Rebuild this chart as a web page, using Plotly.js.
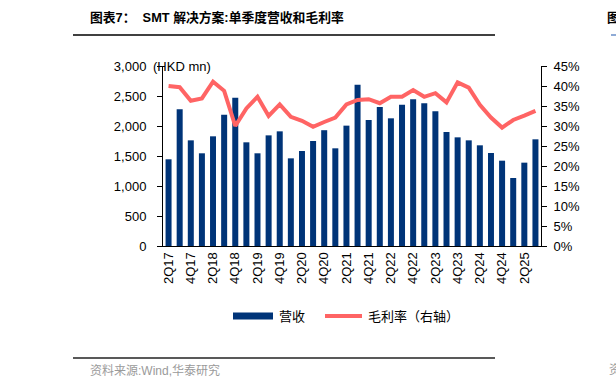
<!DOCTYPE html>
<html>
<head>
<meta charset="utf-8">
<script src="https://cdn.plot.ly/plotly-3.0.1.min.js"></script>
<style>
html,body{margin:0;padding:0;background:#fff;}
#chart{width:616px;height:388px;}
</style>
</head>
<body>
<div id="chart"></div>
<script>
const categories = ["2Q17","3Q17","4Q17","1Q18","2Q18","3Q18","4Q18","1Q19","2Q19","3Q19","4Q19","1Q20","2Q20","3Q20","4Q20","1Q21","2Q21","3Q21","4Q21","1Q22","2Q22","3Q22","4Q22","1Q23","2Q23","3Q23","4Q23","1Q24","2Q24","3Q24","4Q24","1Q25","2Q25","3Q25"];
const revenue = [1445,2278,1761,1545,1828,2189,2472,1728,1545,1844,1911,1461,1583,1750,1930,1628,2006,2689,2100,2317,2128,2356,2444,2378,2244,1900,1811,1761,1678,1550,1422,1133,1389,1778];
const grossMargin = [40.0,39.7,36.3,36.9,41.1,38.8,30.0,34.4,37.3,32.5,35.4,32.3,31.3,29.8,31.0,32.1,35.4,36.5,36.7,35.7,37.3,37.3,39.0,37.3,38.2,35.9,40.9,39.6,35.3,32.1,29.6,31.5,32.6,33.8];
const seriesNames = ["营收", "毛利率（右轴）"];
const titleText = "图表7：  SMT 解决方案:单季度营收和毛利率";
const sourceText = "资料来源:Wind,华泰研究";
const unitText = "(HKD mn)";

const W = 616, H = 388;
const M = {l:163, r:75, t:66, b:142};
const PW = W - M.l - M.r, PH = H - M.t - M.b;
const px = x => (x - M.l) / PW;
const py = y => (H - M.b - y) / PH;

const NAVY = "#003478";
const RED = "#FF6464";
const FONT = "Liberation Sans, Arial, sans-serif";
const CJK = "Liberation Sans, Noto Sans CJK SC, sans-serif";

const labelVals = categories.filter((c, i) => i % 2 === 0);
const boundaryTicks = categories.map((c, i) => i - 0.5).filter((v, i) => i % 2 === 0);
boundaryTicks.push(categories.length - 0.5);

const traces = [
  {type:"bar", x:categories, y:revenue, name:seriesNames[0], marker:{color:NAVY}, yaxis:"y", showlegend:false, hoverinfo:"x+y"},
  {type:"scatter", mode:"lines", x:categories, y:grossMargin, name:seriesNames[1], line:{color:RED, width:4}, yaxis:"y2", showlegend:false}
];

const layout = {
  width:W, height:H,
  margin:M,
  paper_bgcolor:"#fff", plot_bgcolor:"#fff",
  font:{family:FONT, size:13, color:"#000"},
  bargap:0.46,
  showlegend:false,
  xaxis:{type:"category", tickmode:"array", tickvals:labelVals, ticktext:labelVals, tickangle:-90,
         ticks:"", showline:true, linecolor:"#000", linewidth:1, showgrid:false, zeroline:false,
         range:[-0.5, categories.length-0.5], tickfont:{size:13}},
  xaxis2:{overlaying:"x", anchor:"y", side:"bottom", range:[-0.5, categories.length-0.5],
          tickmode:"array", tickvals:boundaryTicks, ticks:"outside", ticklen:5, tickcolor:"#000",
          showticklabels:false, showline:false, showgrid:false, zeroline:false},
  yaxis:{range:[0,3000], dtick:500, tickformat:",d", ticks:"outside", ticklen:5, tickcolor:"#000",
         showline:true, linecolor:"#000", linewidth:1, showgrid:false, zeroline:false,
         ticklabelstandoff:8, tickfont:{size:13}},
  yaxis2:{overlaying:"y", side:"right", range:[0,45], dtick:5, ticksuffix:"%", ticks:"outside", ticklen:5,
          tickcolor:"#000", showline:true, linecolor:"#000", linewidth:1, showgrid:false, zeroline:false,
          ticklabelstandoff:4, tickfont:{size:13}},
  shapes:[
    {type:"line", xref:"paper", yref:"paper", x0:px(73), x1:px(495), y0:py(35), y1:py(35), line:{color:"#000", width:1.5}},
    {type:"line", xref:"paper", yref:"paper", x0:px(73), x1:px(495), y0:py(358), y1:py(358), line:{color:"#222", width:1.5}},
    {type:"line", xref:"paper", yref:"paper", x0:px(611), x1:px(617), y0:py(35), y1:py(35), line:{color:"#6a8fc8", width:1.5}},
    {type:"rect", xref:"paper", yref:"paper", x0:px(233), x1:px(273), y0:py(319.5), y1:py(312.5), fillcolor:NAVY, line:{width:0}},
    {type:"line", xref:"paper", yref:"paper", x0:px(325), x1:px(362), y0:py(316), y1:py(316), line:{color:RED, width:4}}
  ],
  annotations:[
    {xref:"paper", yref:"paper", x:px(88), y:py(17), xanchor:"left", yanchor:"middle", showarrow:false,
     text:"<b>"+titleText+"</b>", font:{family:CJK, size:12.8, color:"#000"}},
    {xref:"paper", yref:"paper", x:px(605), y:py(17), xanchor:"left", yanchor:"middle", showarrow:false,
     text:"<b>图</b>", font:{family:CJK, size:12.8, color:"#000"}},
    {xref:"paper", yref:"paper", x:px(88), y:py(370), xanchor:"left", yanchor:"middle", showarrow:false,
     text:sourceText, font:{family:CJK, size:12, color:"#9a9a9a"}},
    {xref:"paper", yref:"paper", x:px(607), y:py(370), xanchor:"left", yanchor:"middle", showarrow:false,
     text:"资", font:{family:CJK, size:12, color:"#9a9a9a"}},
    {xref:"paper", yref:"paper", x:px(151), y:py(66), xanchor:"left", yanchor:"middle", showarrow:false,
     text:unitText, font:{family:FONT, size:13, color:"#000"}},
    {xref:"paper", yref:"paper", x:px(277), y:py(316), xanchor:"left", yanchor:"middle", showarrow:false,
     text:seriesNames[0], font:{family:CJK, size:13, color:"#000"}},
    {xref:"paper", yref:"paper", x:px(366), y:py(316), xanchor:"left", yanchor:"middle", showarrow:false,
     text:seriesNames[1], font:{family:CJK, size:13, color:"#000"}}
  ]
};

Plotly.newPlot("chart", traces, layout, {displayModeBar:false, staticPlot:true});
</script>
</body>
</html>
